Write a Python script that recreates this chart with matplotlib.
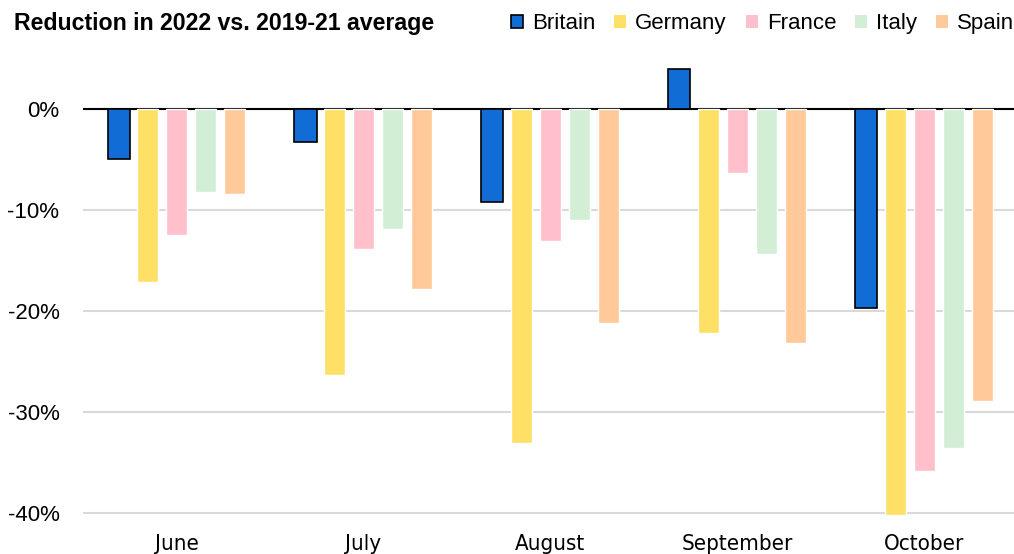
import matplotlib.pyplot as plt
import numpy as np
from matplotlib.patches import Patch

# monthly change in 2022 relative to the 2019-21 average, percent
months = ["June", "July", "August", "September", "October"]
countries = ["Britain", "Germany", "France", "Italy", "Spain"]
britain = [-4.9, -3.3, -9.2, 4.0, -19.7]
germany = [-17.1, -26.3, -33.0, -22.2, -40.2]
france = [-12.5, -13.8, -13.1, -6.3, -35.8]
italy = [-8.2, -11.9, -11.0, -14.3, -33.5]
spain = [-8.4, -17.8, -21.2, -23.1, -28.9]

series = [britain, germany, france, italy, spain]
colors = ["#116CD6", "#FFE066", "#FFC0CB", "#D2EFD5", "#FFC999"]

fig = plt.figure(figsize=(10.14, 5.54), dpi=100)
ax = fig.add_axes([0.0819, 0.0487, 0.918, 0.8549])

x = np.arange(len(months))
step = 0.155
width = 0.112
for i, (vals, col) in enumerate(zip(series, colors)):
    if i == 0:
        ax.bar(x + (i - 2) * step, vals, width=width + 0.006, color=col,
               edgecolor="black", linewidth=1.2, zorder=3)
    else:
        ax.bar(x + (i - 2) * step, vals, width=width, color=col,
               edgecolor="white", linewidth=1.0, zorder=3)

ax.set_xlim(-0.5, 4.48)
ax.set_ylim(-41.35, 5.5)
ax.set_yticks([0, -10, -20, -30, -40])
ax.set_yticklabels(["0%", "-10%", "-20%", "-30%", "-40%"],
                   fontsize=16, family="Liberation Sans")
ax.set_xticks(x)
ax.set_xticklabels(months, fontsize=16, family="DejaVu Sans", stretch="condensed")
ax.tick_params(axis="both", length=0)
ax.tick_params(axis="y", pad=17)
ax.tick_params(axis="x", pad=5)

ax.yaxis.grid(True, color="#D9D9D9", linewidth=1.5, zorder=0)
ax.set_axisbelow(True)
ax.axhline(0, color="black", linewidth=1.5, zorder=2)
for s in ax.spines.values():
    s.set_visible(False)

fig.text(0.0138, 0.957, "Reduction in 2022 vs. 2019-21 average", fontsize=16.7,
         fontweight="bold", family="Liberation Sans", va="center", ha="left")

handles = []
for i, (name, col) in enumerate(zip(countries, colors)):
    if i == 0:
        handles.append(Patch(facecolor=col, edgecolor="black", linewidth=1.2, label=name))
    else:
        handles.append(Patch(facecolor=col, edgecolor="none", label=name))
fig.legend(handles=handles, loc="center right", bbox_to_anchor=(1.02, 0.957), ncol=5,
           frameon=False, handlelength=0.55, handleheight=0.55, handletextpad=0.4,
           columnspacing=0.85, prop={"family": "Liberation Sans", "size": 16})

fig.savefig("out.png", dpi=100)
